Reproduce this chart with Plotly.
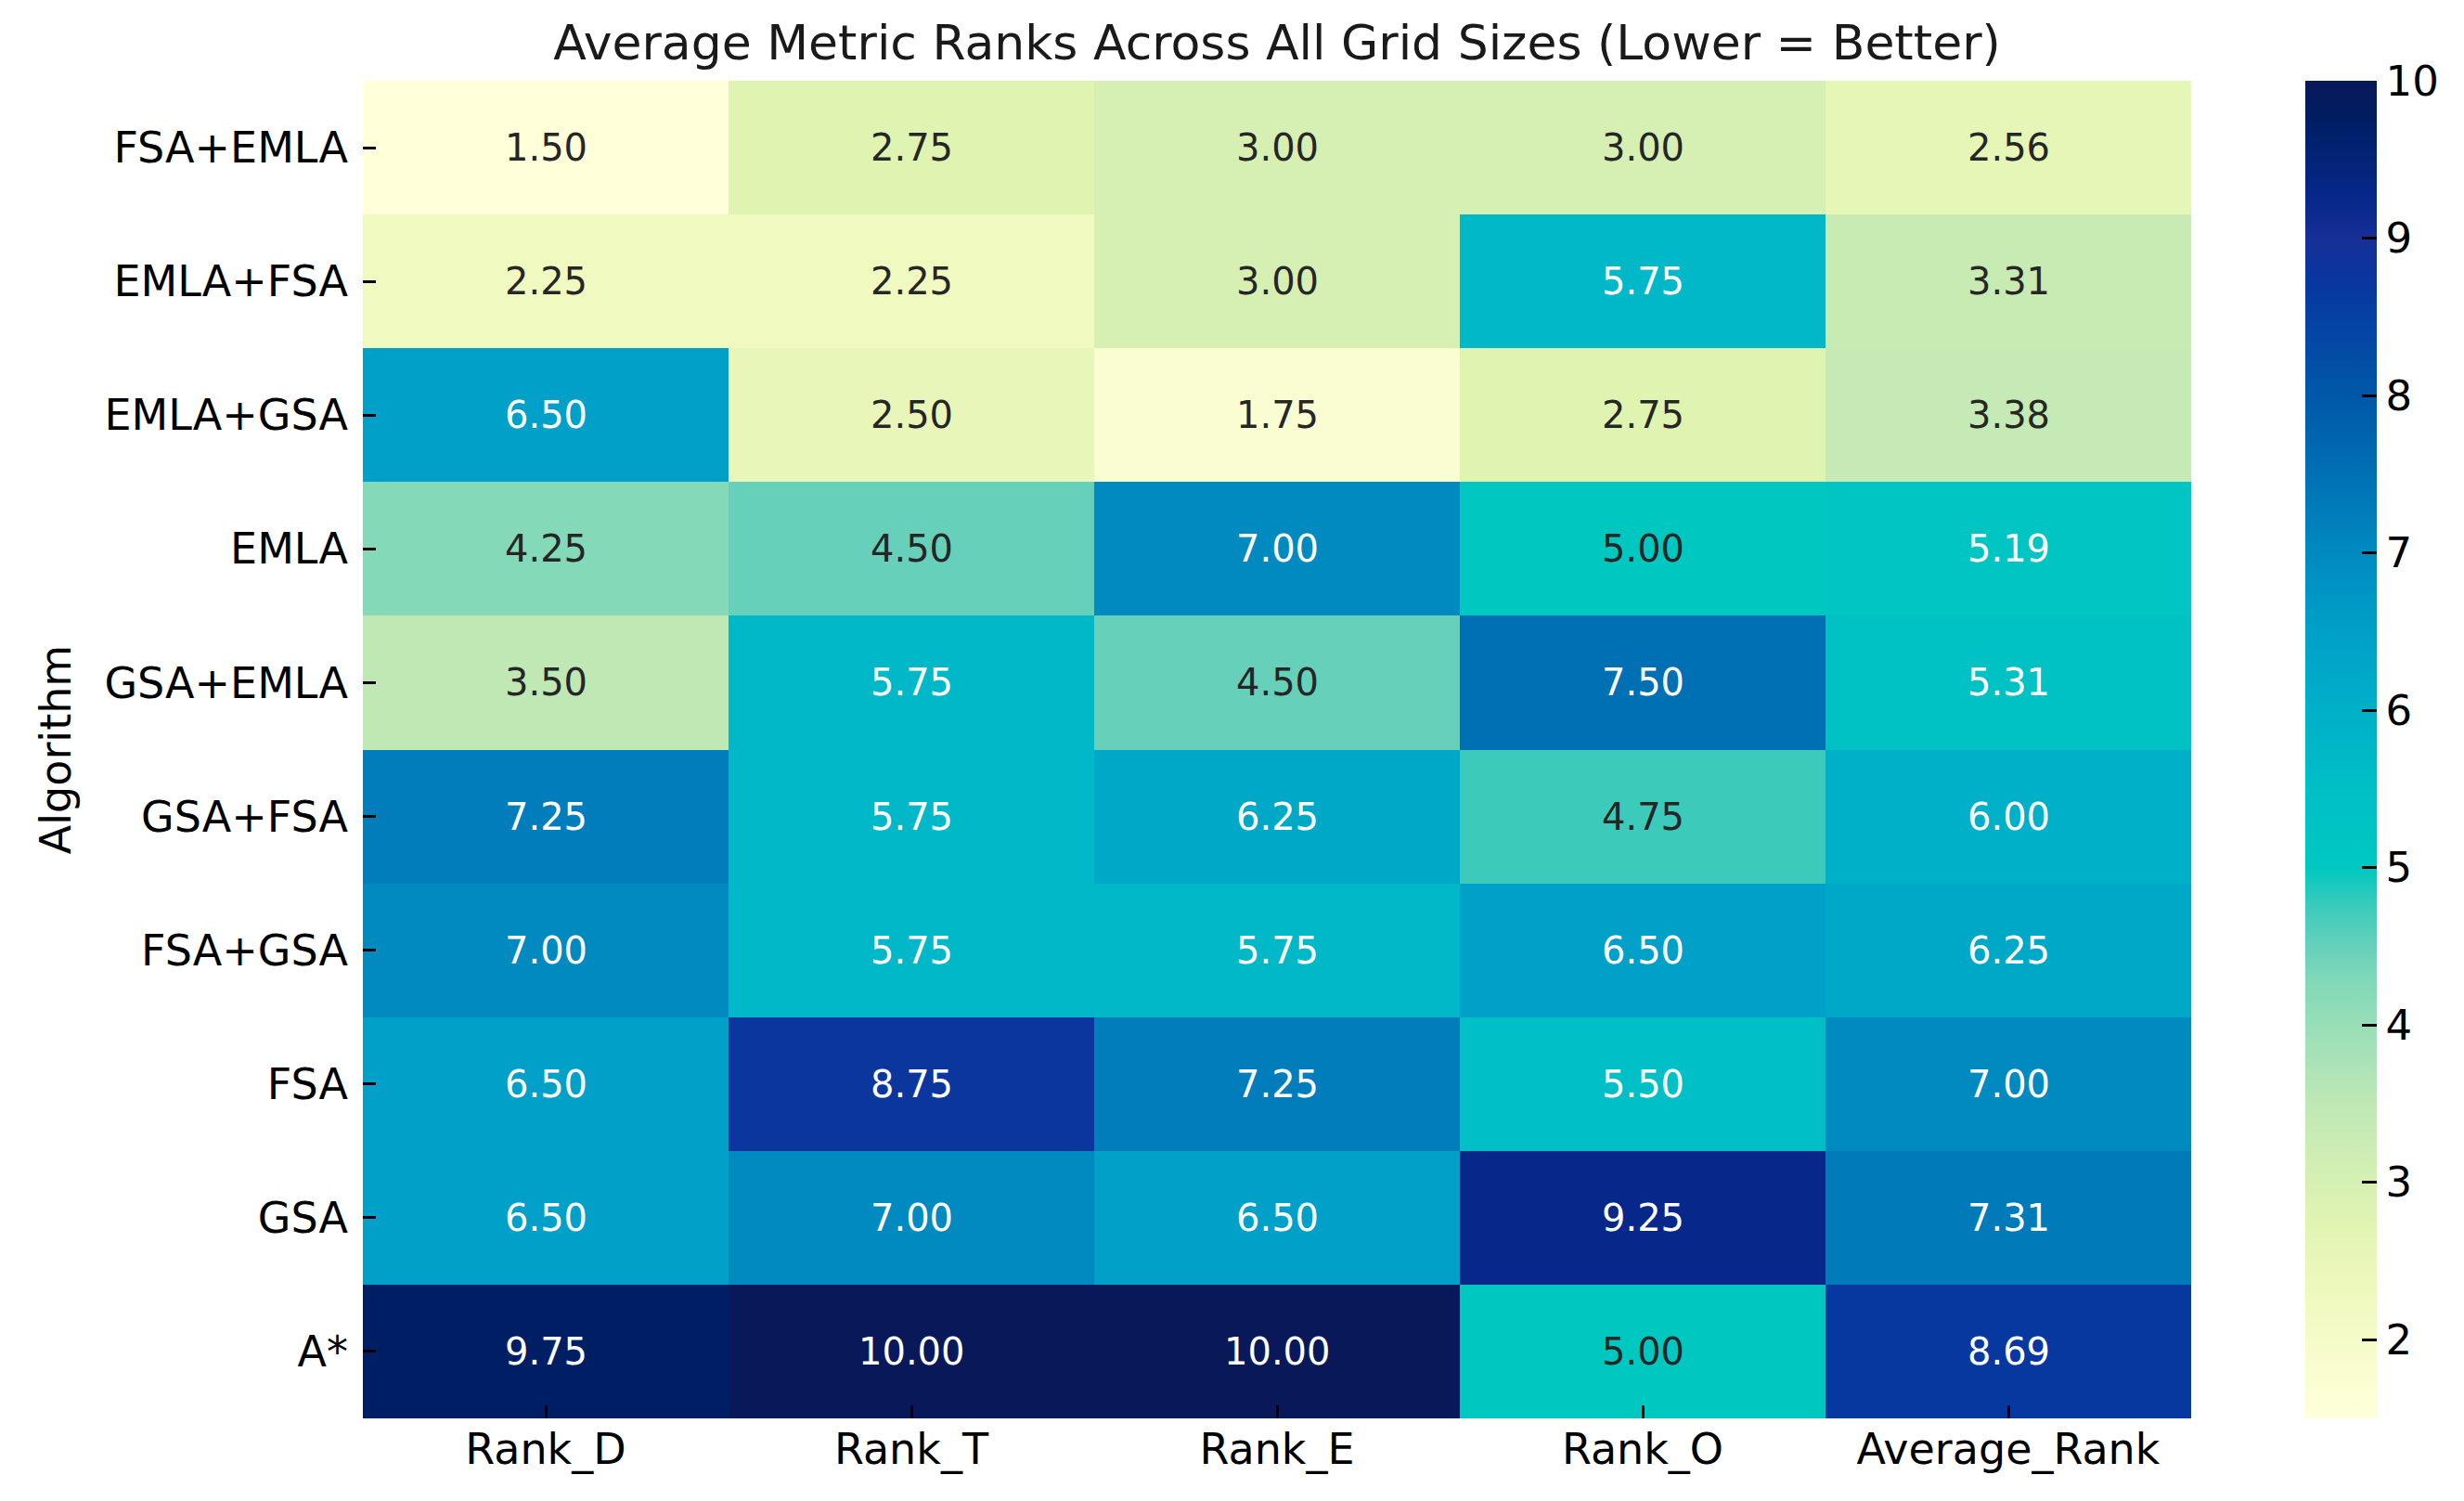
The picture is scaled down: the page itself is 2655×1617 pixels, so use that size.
import plotly.graph_objects as go

algorithms = ["FSA+EMLA", "EMLA+FSA", "EMLA+GSA", "EMLA", "GSA+EMLA",
              "GSA+FSA", "FSA+GSA", "FSA", "GSA", "A*"]
metrics = ["Rank_D", "Rank_T", "Rank_E", "Rank_O", "Average_Rank"]

rank_d = [1.50, 2.25, 6.50, 4.25, 3.50, 7.25, 7.00, 6.50, 6.50, 9.75]
rank_t = [2.75, 2.25, 2.50, 4.50, 5.75, 5.75, 5.75, 8.75, 7.00, 10.00]
rank_e = [3.00, 3.00, 1.75, 7.00, 4.50, 6.25, 5.75, 7.25, 6.50, 10.00]
rank_o = [3.00, 5.75, 2.75, 5.00, 7.50, 4.75, 6.50, 5.50, 9.25, 5.00]
avg_rank = [2.56, 3.31, 3.38, 5.19, 5.31, 6.00, 6.25, 7.00, 7.31, 8.69]

columns = [rank_d, rank_t, rank_e, rank_o, avg_rank]
z = [[col[i] for col in columns] for i in range(len(algorithms))]

zmin, zmax = 1.5, 10.0
stops = [
    (1.5, "#ffffd9"), (2.25, "#f0f9c0"), (2.75, "#e0f4b1"), (3.0, "#d6f0b3"),
    (3.5, "#bfe8b5"), (4.25, "#84d9b8"), (4.5, "#66d0bb"), (4.75, "#3ccbbb"),
    (5.0, "#00c8c0"), (5.5, "#00bfc6"), (6.0, "#00b0c8"), (6.5, "#00a0c8"),
    (7.0, "#008ac0"), (7.5, "#0070b4"), (8.0, "#0058a8"), (8.69, "#0738a0"),
    (9.0, "#162f96"), (9.25, "#07288a"), (9.75, "#001e64"), (10.0, "#081858"),
]
colorscale = [[(v - zmin) / (zmax - zmin), c] for v, c in stops]

FONT = "DejaVu Sans"
W, H = 2655, 1617
L, R, T, B = 391, 294, 87, 89
plot_w = W - L - R

fig = go.Figure()
fig.add_trace(go.Heatmap(
    z=z, x=metrics, y=algorithms, zmin=zmin, zmax=zmax,
    colorscale=colorscale, showscale=True,
    colorbar=dict(
        x=(2484 - L) / plot_w, xanchor="left", xpad=0,
        y=0.5, yanchor="middle", len=1, lenmode="fraction", ypad=0,
        thickness=77, outlinewidth=0,
        tickvals=[2, 3, 4, 5, 6, 7, 8, 9, 10],
        ticks="inside", ticklen=16, tickwidth=2.7, tickcolor="#000",
        tickfont=dict(family=FONT, size=45, color="#000"),
    ),
))

annotations = []
for i, alg in enumerate(algorithms):
    for j, m in enumerate(metrics):
        v = z[i][j]
        annotations.append(dict(
            x=m, y=alg, xref="x", yref="y", text=f"{v:.2f}", showarrow=False,
            font=dict(family=FONT, size=40, color="#ffffff" if v > 5.1 else "#262626"),
        ))

fig.update_layout(
    width=W, height=H,
    margin=dict(l=L, r=R, t=T, b=B, autoexpand=False),
    paper_bgcolor="white", plot_bgcolor="white",
    font=dict(family=FONT, color="#000"),
    title=dict(
        text="Average Metric Ranks Across All Grid Sizes (Lower = Better)",
        x=(L + plot_w / 2) / W, xanchor="center", xref="container",
        y=(H - 46) / H, yanchor="middle", yref="container",
        font=dict(family=FONT, size=52, color="#1a1a1a"),
    ),
    annotations=annotations,
)
fig.update_xaxes(
    showgrid=False, zeroline=False, showline=False,
    ticks="inside", ticklen=14, tickwidth=2.7, tickcolor="#000",
    tickfont=dict(family=FONT, size=46, color="#000"),
    ticklabelstandoff=2,
)
fig.update_yaxes(
    autorange="reversed", showgrid=False, zeroline=False, showline=False,
    ticks="inside", ticklen=14, tickwidth=2.7, tickcolor="#000",
    tickfont=dict(family=FONT, size=46, color="#000"),
    ticklabelstandoff=15,
    title=dict(text="Algorithm", font=dict(family=FONT, size=46, color="#000"), standoff=21),
)

fig.write_html(
    "out.html",
    config={"displayModeBar": False},
    post_script="document.body.style.margin='0';document.body.style.padding='0';",
)
